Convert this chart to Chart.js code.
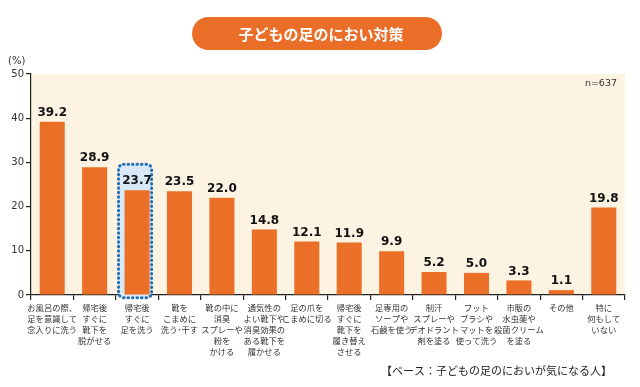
<!DOCTYPE html>
<html>
<head>
<meta charset="utf-8">
<script src="https://cdn.jsdelivr.net/npm/chart.js@4/dist/chart.umd.min.js"></script>
<style>
  html, body { margin: 0; padding: 0; background: #fff; }
  #wrap { width: 640px; height: 387px; position: relative; }
</style>
</head>
<body>
<div id="wrap"><canvas id="footChart"></canvas></div>
<script>
// Categories (multi-line labels)
const categories = [
    ['お風呂の際、', '足を意識して', '念入りに洗う'],
    ['帰宅後', 'すぐに', '靴下を', '脱がせる'],
    ['帰宅後', 'すぐに', '足を洗う'],
    ['靴を', 'こまめに', '洗う･干す'],
    ['靴の中に', '消臭', 'スプレーや', '粉を', 'かける'],
    ['通気性の', 'よい靴下や', '消臭効果の', 'ある靴下を', '履かせる'],
    ['足の爪を', 'こまめに切る'],
    ['帰宅後', 'すぐに', '靴下を', '履き替え', 'させる'],
    ['足専用の', 'ソープや', '石鹸を使う'],
    ['制汗', 'スプレーや', 'デオドラント', '剤を塗る'],
    ['フット', 'ブラシや', 'マットを', '使って洗う'],
    ['市販の', '水虫薬や', '殺菌クリーム', 'を塗る'],
    ['その他'],
    ['特に', '何もして', 'いない']
];
const percentValues = [39.2, 28.9, 23.7, 23.5, 22.0, 14.8, 12.1, 11.9, 9.9, 5.2, 5.0, 3.3, 1.1, 19.8];
const yTicks = [0, 10, 20, 30, 40, 50];
const highlightIndex = 2;
const chartTitle = '子どもの足のにおい対策';
const sampleNote = 'n=637';
const baseNote = '【ベース：子どもの足のにおいが気になる人】';

const JP_FONT = '"Noto Sans CJK JP", "Noto Sans", sans-serif';
const NUM_FONT = '"DejaVu Sans", Verdana, sans-serif';

// Cream plot background
const plotBackground = {
    id: 'plotBackground',
    beforeDraw(chart) {
        const { ctx, chartArea } = chart;
        ctx.save();
        ctx.fillStyle = '#fcf3e3';
        ctx.fillRect(chartArea.left, chartArea.top, chartArea.right - chartArea.left, chartArea.bottom - chartArea.top);
        ctx.restore();
    }
};

// Dotted blue box around the highlighted bar
const highlightBox = {
    id: 'highlightBox',
    beforeDatasetsDraw(chart) {
        const { ctx, scales } = chart;
        const x = scales.x.getPixelForValue(highlightIndex);
        const half = (scales.x.width / categories.length) * 0.39;
        const top = scales.y.getPixelForValue(29.6);
        const bottom = scales.y.getPixelForValue(-0.6);
        ctx.save();
        ctx.beginPath();
        ctx.roundRect(x - half - 2, top, half * 2, bottom - top, 5);
        ctx.fillStyle = '#d9e8f6';
        ctx.fill();
        ctx.setLineDash([0.5, 4]);
        ctx.lineCap = 'round';
        ctx.lineWidth = 3;
        ctx.strokeStyle = '#1f6fb8';
        ctx.stroke();
        ctx.restore();
    }
};

// Value labels above bars
const valueLabels = {
    id: 'valueLabels',
    afterDatasetsDraw(chart) {
        const { ctx } = chart;
        const meta = chart.getDatasetMeta(0);
        ctx.save();
        ctx.font = 'bold 12px ' + NUM_FONT;
        ctx.fillStyle = '#111';
        ctx.textAlign = 'center';
        ctx.textBaseline = 'bottom';
        meta.data.forEach((bar, i) => {
            ctx.fillText(percentValues[i].toFixed(1), bar.x, bar.y - 3);
        });
        ctx.restore();
    }
};

// Title pill and notes
const decorations = {
    id: 'decorations',
    afterDraw(chart) {
        const { ctx, chartArea } = chart;
        ctx.save();
        // title pill
        ctx.beginPath();
        ctx.roundRect(192, 17, 250, 33, 16.5);
        ctx.fillStyle = '#ea6e28';
        ctx.fill();
        ctx.fillStyle = '#fff';
        ctx.font = 'bold 15px ' + JP_FONT;
        ctx.textAlign = 'center';
        ctx.textBaseline = 'middle';
        ctx.fillText(chartTitle, 321, 34);

        // unit label
        ctx.fillStyle = '#333';
        ctx.font = '10px ' + NUM_FONT;
        ctx.textAlign = 'left';
        ctx.fillText('(%)', 8, 61);

        // sample size
        ctx.font = '9.5px ' + NUM_FONT;
        ctx.textAlign = 'right';
        ctx.fillText(sampleNote, chartArea.right - 8, 84);

        // base note
        ctx.fillStyle = '#222';
        ctx.font = '11px ' + JP_FONT;
        ctx.fillText(baseNote, 612, 371);
        ctx.restore();
    }
};

function initializeChart() {
    const canvasElem = document.getElementById('footChart');
    if (typeof Chart === 'undefined' || !canvasElem) {
        console.error('Chart.js or canvas not available');
        return;
    }

    new Chart(canvasElem, {
        type: 'bar',
        data: {
            labels: categories,
            datasets: [{
                data: percentValues,
                backgroundColor: '#eb6f27',
                borderWidth: 0,
                barPercentage: 0.59,
                categoryPercentage: 1.0
            }]
        },
        options: {
            responsive: true,
            maintainAspectRatio: false,
            animation: false,
            layout: { padding: { left: 0, right: 15, top: 74, bottom: 0 } },
            plugins: {
                legend: { display: false },
                tooltip: { enabled: false },
                title: { display: false }
            },
            scales: {
                x: {
                    afterFit(scale) { scale.height = 92; },
                    border: { display: true, color: '#222', width: 1.2 },
                    grid: {
                        display: true,
                        offset: true,
                        drawOnChartArea: false,
                        drawTicks: true,
                        tickLength: 5,
                        color: '#222',
                        lineWidth: 1.2
                    },
                    ticks: {
                        autoSkip: false,
                        maxRotation: 0,
                        minRotation: 0,
                        padding: 2,
                        color: '#333',
                        font: { family: JP_FONT, size: 8.3, lineHeight: 1.33 }
                    }
                },
                y: {
                    min: 0,
                    max: 50,
                    afterFit(scale) { scale.width = 31; },
                    afterBuildTicks(scale) { scale.ticks = yTicks.map(v => ({ value: v })); },
                    border: { display: true, color: '#222', width: 1.2 },
                    grid: {
                        display: true,
                        drawOnChartArea: false,
                        drawTicks: true,
                        tickLength: 5,
                        color: '#222',
                        lineWidth: 1.2
                    },
                    ticks: {
                        padding: 2,
                        color: '#333',
                        font: { family: NUM_FONT, size: 10 }
                    }
                }
            }
        },
        plugins: [plotBackground, highlightBox, valueLabels, decorations]
    });
}

initializeChart();
</script>
</body>
</html>
